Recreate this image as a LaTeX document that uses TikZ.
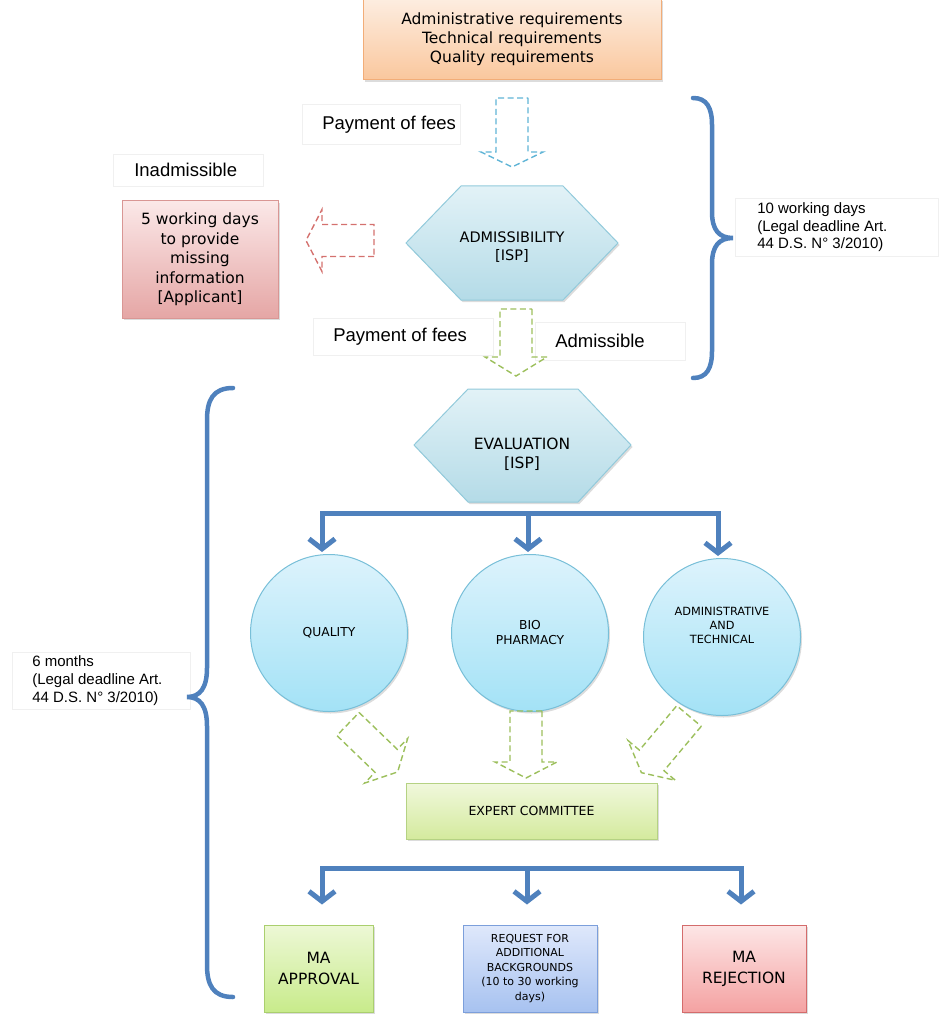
\documentclass[tikz,border=0pt]{standalone}
\usepackage{fontspec}
\setmainfont{DejaVu Sans}
\newfontfamily\arl{Liberation Sans}
\usetikzlibrary{arrows.meta,shadows}
\definecolor{blueln}{HTML}{4F81BD}
\definecolor{orT}{HTML}{FDEDE0}
\definecolor{orB}{HTML}{FAC79D}
\definecolor{orD}{HTML}{F2AD78}
\definecolor{hxT}{HTML}{E2F2F7}
\definecolor{hxB}{HTML}{B4DBE7}
\definecolor{hxD}{HTML}{92CADB}
\definecolor{ciT}{HTML}{DDF3FC}
\definecolor{ciB}{HTML}{A3E2F6}
\definecolor{ciD}{HTML}{78BFD8}
\definecolor{pkT}{HTML}{FBE8E8}
\definecolor{pkB}{HTML}{E5A6A5}
\definecolor{pkD}{HTML}{D99694}
\definecolor{exT}{HTML}{F0F8DC}
\definecolor{exB}{HTML}{D4EA9E}
\definecolor{exD}{HTML}{B5D283}
\definecolor{apT}{HTML}{EDF8D6}
\definecolor{apB}{HTML}{C8EB8B}
\definecolor{apD}{HTML}{AACF6E}
\definecolor{rqT}{HTML}{DFE8FB}
\definecolor{rqB}{HTML}{A7C2F0}
\definecolor{rqD}{HTML}{7C9FDB}
\definecolor{rjT}{HTML}{FDE6E6}
\definecolor{rjB}{HTML}{F4A2A2}
\definecolor{rjD}{HTML}{D46C6C}
\definecolor{dashB}{HTML}{5FB4D6}
\definecolor{dashR}{HTML}{D4716E}
\definecolor{dashG}{HTML}{9CBF5C}
\newcommand\blockarr[6]{%
  \draw[#6, shift={(#1,#2)}, rotate=#3]
    (0,-16) -- ({#4-#5},-16) -- ({#4-#5},-31) -- (#4,0) -- ({#4-#5},31) -- ({#4-#5},16) -- (0,16) -- cycle;}
\begin{document}
\begin{tikzpicture}[x=1pt,y=-1pt,
  bl/.style={draw=blueln, line width=5pt},
  tipb/.style={-{Straight Barb[length=10pt,width=26pt]}},
  brace/.style={draw=blueln, line width=4.5pt, line cap=round},
  shad/.style={drop shadow={opacity=0.28,shadow xshift=1.5pt,shadow yshift=-2pt}},
  box/.style={rectangle, shad, align=center, inner sep=2pt, line width=1pt},
  lbl/.style={rectangle, fill=white, draw=black!6, line width=0.6pt, align=flush left,
    inner xsep=0pt, inner ysep=0pt, font=\arl\fontsize{18.5}{22}\selectfont},
  blbl/.style={lbl, font=\arl\fontsize{15}{17.8}\selectfont},
  dsh/.style={line width=1.4pt, dash pattern=on 6pt off 3.5pt},
  bluearr/.style={dsh, draw=dashB},
  redarr/.style={dsh, draw=dashR},
  greenarr/.style={dsh, draw=dashG},
  circ/.style={circle, shad, top color=ciT, bottom color=ciB, draw=ciD, line width=1pt,
    minimum size=157pt, align=center},
  hexa/.style={shad, top color=hxT, bottom color=hxB, draw=hxD, line width=1pt}
]
\useasboundingbox (0,0) rectangle (938,1024);

% top requirements box
\node[box, top color=orT, bottom color=orB, draw=orD, minimum width=298pt, minimum height=81pt,
  font=\fontsize{15.5}{19}\selectfont] (req) at (512,39.5)
  {Administrative requirements\\Technical requirements\\Quality requirements};

% labels
\node[lbl, anchor=north west, text width=158pt, minimum height=40pt] (pay1) at (302,104)
  {\hspace*{20pt}\mbox{Payment of fees}};
\node[lbl, anchor=north west, text width=150pt, minimum height=32pt] (inad) at (113,154)
  {\hspace*{21pt}\mbox{Inadmissible}};
\node[lbl, anchor=north west, text width=180pt, minimum height=37pt] (pay2) at (313,318)
  {\hspace*{20pt}\mbox{Payment of fees}};
\node[lbl, anchor=north west, text width=150pt, minimum height=38pt] (admis) at (535,322)
  {\hspace*{20pt}\mbox{Admissible}};
\node[blbl, anchor=north west, text width=203pt, minimum height=58pt] (rtxt) at (735,198)
  {\hspace*{22pt}\mbox{10 working days}\\\hspace*{22pt}\mbox{(Legal deadline Art.}\\\hspace*{22pt}\mbox{44 D.S. N° 3/2010)}};
\node[blbl, anchor=north west, text width=178pt, minimum height=57pt] (ltxt) at (12,652)
  {\hspace*{20pt}\mbox{6 months}\\\hspace*{20pt}\mbox{(Legal deadline Art.}\\\hspace*{20pt}\mbox{44 D.S. N° 3/2010)}};

% admissibility hexagon
\path[hexa] (406,243) -- (461,186) -- (563,186) -- (618,243) -- (563,300) -- (461,300) -- cycle;
\node[align=center, font=\fontsize{14.5}{18}\selectfont] (adm) at (512,247) {ADMISSIBILITY\\{}[ISP]};

% pink box
\node[box, top color=pkT, bottom color=pkB, draw=pkD, minimum width=156pt, minimum height=117pt,
  font=\fontsize{15.5}{19.5}\selectfont] (miss) at (200,259.5)
  {5 working days\\to provide\\missing\\information\\{}[Applicant]};

% evaluation hexagon
\path[hexa] (414,445) -- (468,389) -- (578,389) -- (631,445) -- (578,502) -- (468,502) -- cycle;
\node[align=center, font=\fontsize{15.5}{19}\selectfont] (eval) at (522,454) {EVALUATION\\{}[ISP]};

% circles
\node[circ, font=\fontsize{12.3}{15}\selectfont] (qual) at (329,633) {QUALITY};
\node[circ, font=\fontsize{12.3}{15}\selectfont] (bio) at (530,633) {BIO\\PHARMACY};
\node[circ] (admc) at (722,637) {};
\node[align=center, font=\fontsize{11.3}{14}\selectfont] (admt) at (722,625) {ADMINISTRATIVE\\AND\\TECHNICAL};

% expert committee
\node[box, top color=exT, bottom color=exB, draw=exD, minimum width=251pt, minimum height=56pt,
  font=\fontsize{12.5}{15}\selectfont] (exp) at (531.5,811) {EXPERT COMMITTEE};

% outcome boxes
\node[box, top color=apT, bottom color=apB, draw=apD, minimum width=109pt, minimum height=87pt,
  font=\fontsize{15.5}{21}\selectfont] (appr) at (318.5,968.5) {MA\\APPROVAL};
\node[box, top color=rqT, bottom color=rqB, draw=rqD, minimum width=134pt, minimum height=87pt,
  font=\fontsize{11}{14.5}\selectfont] (addb) at (530,968.5)
  {REQUEST FOR\\ADDITIONAL\\BACKGROUNDS\\(10 to 30 working\\days)};
\node[box, top color=rjT, bottom color=rjB, draw=rjD, minimum width=124pt, minimum height=87pt,
  font=\fontsize{15.5}{21}\selectfont] (rej) at (744,968.5) {MA\\REJECTION};

% dashed block arrows
\blockarr{512}{98}{-90}{69}{15}{bluearr}
\blockarr{374}{240.5}{180}{68}{16}{redarr}
\blockarr{516}{309}{-90}{67}{19}{greenarr}
\blockarr{348}{724}{-44}{69}{16}{greenarr}
\blockarr{526}{711}{-90}{67}{16}{greenarr}
\blockarr{689}{716}{-130}{74}{16}{greenarr}

% tree connectors
\coordinate (b1) at (528,513);
\draw[bl, tipb] (b1) -| ([xshift=-7pt,yshift=2pt]qual.north);
\draw[bl, tipb] (b1) -- ([xshift=-2pt,yshift=2pt]bio.north);
\draw[bl, tipb] (b1) -| ([xshift=-4pt,yshift=2pt]admc.north);

\coordinate (b2) at (527,868);
\draw[bl, tipb] (b2) -| ([xshift=3.5pt,yshift=20pt]appr.north);
\draw[bl, tipb] (b2) -- ([xshift=-3pt,yshift=20pt]addb.north);
\draw[bl, tipb] (b2) -| ([xshift=-3pt,yshift=20pt]rej.north);

% braces
\draw[brace] (693,98) .. controls (707,98) and (712,108) .. (712,125) -- (712,212)
  .. controls (712,230) and (719,238) .. (733,238)
  .. controls (719,238) and (712,246) .. (712,264) -- (712,351)
  .. controls (712,368) and (707,378) .. (693,378);
\draw[brace] (233,388) .. controls (213,388) and (207,400) .. (207,420) -- (207,668)
  .. controls (207,688) and (200,697) .. (187,697)
  .. controls (200,697) and (207,706) .. (207,726) -- (207,965)
  .. controls (207,985) and (213,997) .. (233,997);
\end{tikzpicture}
\end{document}
